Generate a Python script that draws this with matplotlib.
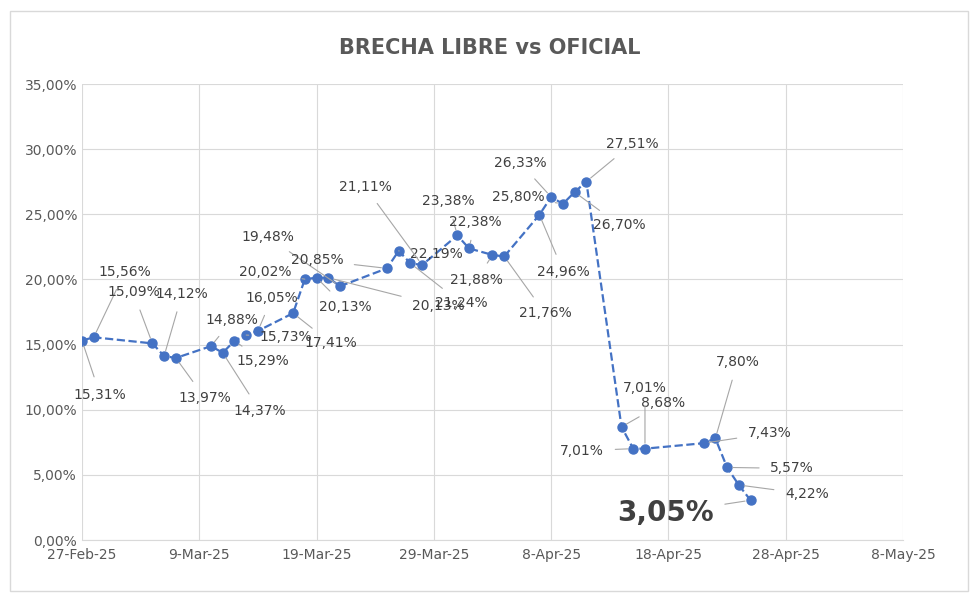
import matplotlib
matplotlib.use("Agg")
import matplotlib.pyplot as plt
import datetime as dt

dates = ["2025-02-27","2025-02-28","2025-03-05","2025-03-06","2025-03-07","2025-03-10","2025-03-11",
         "2025-03-12","2025-03-13","2025-03-14","2025-03-17","2025-03-18","2025-03-19","2025-03-20",
         "2025-03-21","2025-03-25","2025-03-26","2025-03-27","2025-03-28","2025-03-31","2025-04-01",
         "2025-04-03","2025-04-04","2025-04-07","2025-04-08","2025-04-09","2025-04-10","2025-04-11",
         "2025-04-14","2025-04-15","2025-04-16","2025-04-21","2025-04-22","2025-04-23","2025-04-24","2025-04-25"]
values = [15.31,15.56,15.09,14.12,13.97,14.88,14.37,15.29,15.73,16.05,17.41,20.02,20.13,20.13,
          19.48,20.85,22.19,21.24,21.11,23.38,22.38,21.88,21.76,24.96,26.33,25.80,26.70,27.51,
          8.68,7.01,7.01,7.43,7.80,5.57,4.22,3.05]
offsets = [(18,-54),(31,65),(-19,51),(18,62),(29,-40),(21,26),(37,-58),(28,-20),(40,-2),(14,33),
           (38,-30),(-40,7),(29,-29),(110,-28),(-72,49),(-70,8),(38,-3),(51,-40),(-57,78),(-9,34),
           (6,26),(-16,-25),(41,-57),(24,-57),(-31,34),(-45,7),(45,-33),(46,38),(42,24),(-51,-2),
           (0,61),(66,10),(22,76),(65,-1),(68,-9),(-85,-13)]

x = [dt.datetime.strptime(d, "%Y-%m-%d") for d in dates]
fig = plt.figure(figsize=(9.8, 6.01), dpi=100)
ax = fig.add_axes([82/980, 1-540/601, (903-82)/980, (540-84)/601])
ax.plot(x, values, ls="--", color="#4472C4", lw=1.6, marker="o", ms=6.5, zorder=3)
for xi, v, off in zip(x, values, offsets):
    last = v == 3.05
    ax.annotate(f"{v:.2f}%".replace(".", ","), (xi, v), xytext=off, textcoords="offset pixels",
                ha="center", va="center", fontsize=20 if last else 10,
                fontweight="bold" if last else "normal", color="#404040",
                arrowprops=dict(arrowstyle="-", color="#A6A6A6", lw=0.8, shrinkA=6, shrinkB=4))
ax.set_xlim(dt.datetime(2025,2,27), dt.datetime(2025,5,8))
ax.set_ylim(0, 35)
ticks = [dt.datetime(2025,2,27) + dt.timedelta(days=10*i) for i in range(8)]
ax.set_xticks(ticks)
ax.set_xticklabels([t.strftime("%-d-%b-%y") for t in ticks])
ax.set_yticks(range(0, 36, 5))
ax.set_yticklabels([f"{v},00%" for v in range(0, 36, 5)])
ax.grid(True, color="#D9D9D9", lw=0.8)
for s in ax.spines.values():
    s.set_visible(False)
ax.spines["bottom"].set_visible(True); ax.spines["bottom"].set_color("#D9D9D9")
ax.tick_params(length=0, labelsize=10, colors="#595959")
ax.tick_params(axis="x", pad=6)
fig.text(0.5, 1-48/601, "BRECHA LIBRE vs OFICIAL", ha="center", va="center", fontsize=15,
         fontweight="bold", color="#595959")
fig.add_artist(plt.Rectangle((10/980, 10/601), 958/980, 580/601, fill=False, ec="#D9D9D9", lw=1,
                             transform=fig.transFigure))
fig.savefig("out.png", dpi=100)
